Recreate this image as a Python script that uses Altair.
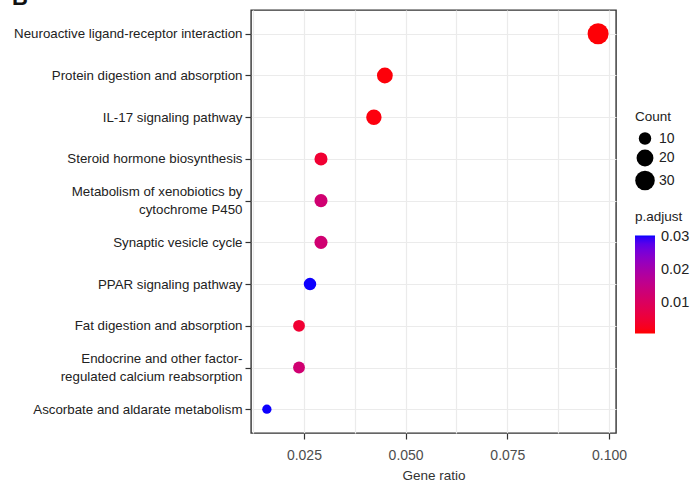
import altair as alt
import pandas as pd

# KEGG enrichment results
pathways = [
    "Neuroactive ligand-receptor interaction",
    "Protein digestion and absorption",
    "IL-17 signaling pathway",
    "Steroid hormone biosynthesis",
    "Metabolism of xenobiotics by cytochrome P450",
    "Synaptic vesicle cycle",
    "PPAR signaling pathway",
    "Fat digestion and absorption",
    "Endocrine and other factor-regulated calcium reabsorption",
    "Ascorbate and aldarate metabolism",
]
gene_ratio = [0.0973, 0.0449, 0.0422, 0.0292, 0.0292, 0.0292, 0.0265, 0.0238, 0.0238, 0.0159]
counts = [37, 17, 16, 11, 11, 11, 10, 9, 9, 6]
p_adjust = [0.0008, 0.0010, 0.0012, 0.0045, 0.0125, 0.0125, 0.0305, 0.0045, 0.0125, 0.0305]

# long names shown on two lines, centred on their tick
wrapped = {
    "Metabolism of xenobiotics by cytochrome P450": ["Metabolism of xenobiotics by", "cytochrome P450"],
    "Endocrine and other factor-regulated calcium reabsorption": ["Endocrine and other factor-", "regulated calcium reabsorption"],
}
label_expr = "datum.label"
for name, lines in wrapped.items():
    arr = "[" + ", ".join("'" + l + "'" for l in lines) + "]"
    label_expr = f"datum.label == '{name}' ? {arr} : ({label_expr})"
is_wrapped = "indexof([" + ", ".join("'" + n + "'" for n in wrapped) + "], datum.value) >= 0"

df = pd.DataFrame({
    "pathway": pathways,
    "ratio": gene_ratio,
    "count": counts,
    "padj": p_adjust,
})

FONT = "Liberation Sans"
is_major = "indexof([0.025, 0.05, 0.075, 0.1], datum.value) >= 0"
grid_vals = [0.0125, 0.025, 0.0375, 0.05, 0.0625, 0.075, 0.0875, 0.1]

points = alt.Chart(df).mark_circle(opacity=1).encode(
    x=alt.X(
        "ratio:Q",
        title="Gene ratio",
        scale=alt.Scale(domain=[0.012, 0.1017], nice=False, zero=False),
        axis=alt.Axis(
            values=grid_vals,
            labelExpr=f"{is_major} ? format(datum.value, '.3f') : ''",
            tickOpacity={"condition": {"test": is_major, "value": 1}, "value": 0},
            grid=True,
            gridColor="#ebebeb",
            gridWidth=1.2,
            domain=False,
            tickColor="#333333",
            tickSize=6,
            tickWidth=1.2,
            labelFont=FONT,
            labelFontSize=14,
            labelColor="#4d4d4d",
            labelPadding=9,
            titleFont=FONT,
            titleFontSize=13.5,
            titleFontWeight="normal",
            titleColor="#333333",
            titlePadding=6,
        ),
    ),
    y=alt.Y(
        "pathway:N",
        sort=pathways,
        title=None,
        scale=alt.Scale(padding=0.57),
        axis=alt.Axis(
            labelExpr=label_expr,
            labelLineHeight=18,
            labelOffset={"condition": {"test": is_wrapped, "value": -9}, "value": 0},
            grid=True,
            gridColor="#ebebeb",
            gridWidth=1.2,
            domain=False,
            tickColor="#333333",
            tickSize=6,
            tickWidth=1.2,
            labelFont=FONT,
            labelFontSize=13.3,
            labelColor="#222222",
            labelPadding=3,
            labelLimit=300,
        ),
    ),
    size=alt.Size(
        "count:Q",
        title="Count",
        scale=alt.Scale(type="sqrt", domain=[6, 37], range=[86, 441], zero=False),
        legend=alt.Legend(
            values=[10, 20, 30],
            orient="none",
            legendX=384,
            legendY=100,
            symbolFillColor="black",
            symbolStrokeColor="black",
            symbolOpacity=1,
            symbolStrokeWidth=0,
            titleFont=FONT,
            titleFontSize=13.5,
            titleFontWeight="normal",
            titleColor="#222222",
            labelFont=FONT,
            labelFontSize=14,
            labelColor="#222222",
            rowPadding=4,
            titlePadding=8,
        ),
    ),
    color=alt.Color(
        "padj:Q",
        title="p.adjust",
        scale=alt.Scale(domain=[0.0005, 0.0306], range=["#ff0000", "#0000ff"], interpolate="lab", nice=False, zero=False),
        legend=alt.Legend(
            values=[0.01, 0.02, 0.03],
            orient="none",
            legendX=384,
            legendY=200,
            gradientLength=98,
            gradientThickness=20,
            gradientStrokeWidth=0,
            titleFont=FONT,
            titleFontSize=13.5,
            titleFontWeight="normal",
            titleColor="#222222",
            labelFont=FONT,
            labelFontSize=14.5,
            labelColor="#222222",
            labelOffset=6,
            titlePadding=12,
        ),
    ),
)

# panel letter in the top-left corner
letter = alt.Chart(pd.DataFrame({"panel": ["B"]})).mark_text(
    font=FONT, fontSize=22, fontWeight="bold", align="left", baseline="alphabetic", color="#111111"
).encode(text="panel:N", x=alt.value(-239), y=alt.value(-5))

chart = alt.layer(points, letter).properties(
    width=365,
    height=423,
    background="white",
    autosize=alt.AutoSizeParams(type="none"),
    padding={"left": 251, "top": 10, "right": 75, "bottom": 49},
).configure_view(
    stroke="#333333",
    strokeWidth=1.4,
)

chart.save("out.html", embed_options={"renderer": "svg", "actions": False})
